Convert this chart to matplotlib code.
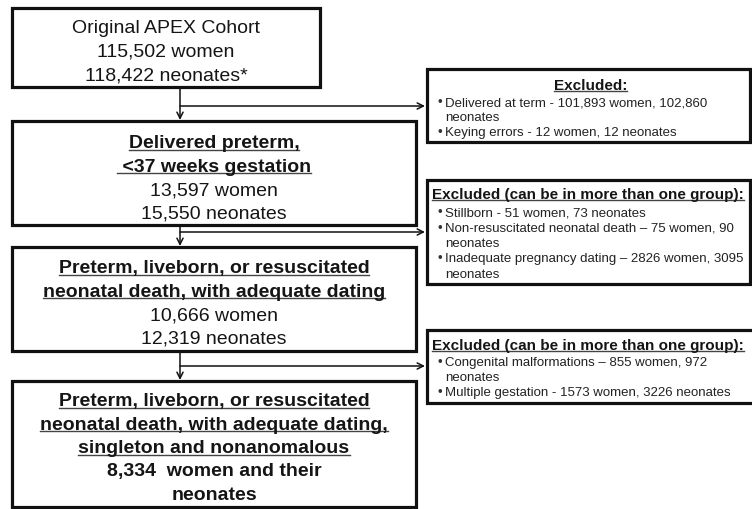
import matplotlib.pyplot as plt
from matplotlib.patches import Rectangle

plt.rcParams['font.family'] = ['Liberation Sans', 'DejaVu Sans']

# --- chart content ---
cohort_lines = ["Original APEX Cohort", "115,502 women", "118,422 neonates*"]
preterm_title = ["Delivered preterm,", " <37 weeks gestation"]
preterm_counts = ["13,597 women", "15,550 neonates"]
liveborn_title = ["Preterm, liveborn, or resuscitated",
                  "neonatal death, with adequate dating"]
liveborn_counts = ["10,666 women", "12,319 neonates"]
final_title = ["Preterm, liveborn, or resuscitated",
               "neonatal death, with adequate dating,",
               "singleton and nonanomalous"]
final_counts = ["8,334  women and their", "neonates"]

excl_titles = ["Excluded:",
               "Excluded (can be in more than one group):",
               "Excluded (can be in more than one group):"]
excl_items = [
    ["Delivered at term - 101,893 women, 102,860", "neonates",
     "Keying errors - 12 women, 12 neonates"],
    ["Stillborn - 51 women, 73 neonates",
     "Non-resuscitated neonatal death \u2013 75 women, 90", "neonates",
     "Inadequate pregnancy dating \u2013 2826 women, 3095", "neonates"],
    ["Congenital malformations \u2013 855 women, 972", "neonates",
     "Multiple gestation - 1573 women, 3226 neonates"],
]
# which item lines start with a bullet
excl_bullets = [[1, 0, 1], [1, 1, 0, 1, 0], [1, 0, 1]]

# --- layout (pixels, y down) ---
main_boxes = [(12, 9, 320, 88), (12, 122, 416, 226),
              (12, 248, 416, 352), (12, 382, 416, 508)]
excl_boxes = [(427, 70, 750, 143), (427, 181, 750, 285), (427, 331, 756, 404)]
excl_head_y = [85, 194, 345]
excl_item_y0 = [102, 212, 362]
excl_step = [15, 15.3, 15]
trunk_x = 180
branch_y = [107, 233, 367]

fig = plt.figure(figsize=(7.52, 5.10), dpi=100)
ax = fig.add_axes([0, 0, 1, 1])
ax.set_xlim(0, 752)
ax.set_ylim(510, 0)
ax.axis('off')

PX = 100 / 72.0
underlined = []


def put(x, y, s, size, bold=False, ha='center', ul=False, color='#151515'):
    # y is the visual centre of the line; shift to the baseline
    base = y + 0.33 * size * PX
    t = ax.text(x, base, s, fontsize=size, ha=ha, va='baseline',
                fontweight='bold' if bold else 'normal', color=color)
    if ul:
        underlined.append((t, base + 0.14 * size * PX))
    return t


for (x0, y0, x1, y1) in main_boxes + excl_boxes:
    ax.add_patch(Rectangle((x0, y0), x1 - x0, y1 - y0, facecolor='white',
                           edgecolor='#111111', lw=2.3, zorder=2))

# main boxes text
for i, s in enumerate(cohort_lines):
    put(166, 27 + i * 23.5, s, 14)

y = 142
for s in preterm_title:
    put(214, y, s, 14, bold=True, ul=True)
    y += 23.3
for s in preterm_counts:
    put(214, y, s, 14)
    y += 23.3

y = 267
for s in liveborn_title:
    put(214, y, s, 14, bold=True, ul=True)
    y += 23.3
for s in liveborn_counts:
    put(214, y, s, 14)
    y += 23.3

y = 400
for s in final_title:
    put(214, y, s, 14, bold=True, ul=True)
    y += 23.3
for s in final_counts:
    put(214, y, s, 14, bold=True)
    y += 23.3

# excluded boxes text
for k in range(3):
    x0, y0, x1, y1 = excl_boxes[k]
    if k == 0:
        put((x0 + 750) / 2 + 2, excl_head_y[k], excl_titles[k], 11, bold=True, ul=True)
    else:
        put(432, excl_head_y[k], excl_titles[k], 11, bold=True, ul=True, ha='left')
    for j, s in enumerate(excl_items[k]):
        yy = excl_item_y0[k] + j * excl_step[k]
        if excl_bullets[k][j]:
            put(437, yy, "\u2022", 9.5, ha='left', color='#333333')
        put(445, yy, s, 9.5, ha='left', color='#222222')

# arrows
arrow_kw = dict(arrowstyle='->', color='#111111', lw=1.1, mutation_scale=11,
                shrinkA=0, shrinkB=0)
for i in range(3):
    ax.annotate('', xy=(trunk_x, main_boxes[i + 1][1] - 1),
                xytext=(trunk_x, main_boxes[i][3] + 1), arrowprops=arrow_kw)
    ax.annotate('', xy=(excl_boxes[i][0] - 2, branch_y[i]),
                xytext=(trunk_x, branch_y[i]), arrowprops=arrow_kw)

# underlines
fig.canvas.draw()
renderer = fig.canvas.get_renderer()
inv = ax.transData.inverted()
for t, uy in underlined:
    bb = t.get_window_extent(renderer)
    (ux0, _), (ux1, _) = inv.transform([(bb.x0, bb.y0), (bb.x1, bb.y0)])
    ax.plot([ux0, ux1], [uy, uy], color='#444444', lw=1.0)

fig.savefig('out.png', dpi=100)
